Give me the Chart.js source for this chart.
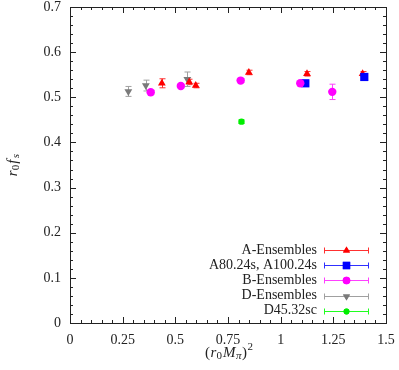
<!DOCTYPE html>
<html>
<head>
<meta charset="utf-8">
<script src="https://cdn.jsdelivr.net/npm/chart.js@4.4.1/dist/chart.umd.min.js"></script>
<style>
  html, body { margin: 0; padding: 0; background: #fff; }
</style>
</head>
<body>
<canvas id="c" width="399" height="370"></canvas>
<script>
// values
const aX = [0.436, 0.566, 0.597, 0.849, 1.125, 1.389];
const aY = [0.531, 0.534, 0.526, 0.555, 0.552, 0.552];
const aErr = [0.010, 0.006, 0.005, 0.005, 0.005, 0.005];

const a80X = [1.117, 1.397];
const a80Y = [0.531, 0.545];
const a80Err = [0.004, 0.004];

const bX = [0.383, 0.526, 0.810, 1.093, 1.245];
const bY = [0.511, 0.525, 0.537, 0.531, 0.512];
const bErr = [0.004, 0.004, 0.004, 0.004, 0.017];

const dX = [0.277, 0.360, 0.557];
const dY = [0.513, 0.526, 0.540];
const dErr = [0.011, 0.012, 0.016];

const d45X = [0.814];
const d45Y = [0.446];
const d45Err = [0.004];

const xTicks = [0, 0.25, 0.5, 0.75, 1, 1.25, 1.5];
const yTicks = [0, 0.1, 0.2, 0.3, 0.4, 0.5, 0.6, 0.7];

const FONT = '"Liberation Serif", "Times New Roman", serif';
const INK = '#222';

function pts(xs, ys) {
  return xs.map((x, i) => ({ x: x, y: ys[i] }));
}

// legend order = list order; "order" controls what is drawn on top (lower = on top)
const series = [
  { label: 'A-Ensembles', x: aX, y: aY, err: aErr, color: '#ff0000', bar: '#ff3030', style: 'triangle', r: 4.5, rot: 0, order: 3 },
  { label: 'A80.24s, A100.24s', x: a80X, y: a80Y, err: a80Err, color: '#0000ff', bar: '#3030ff', style: 'rect', r: 5.8, rot: 0, order: 2 },
  { label: 'B-Ensembles', x: bX, y: bY, err: bErr, color: '#ff00ff', bar: '#ff40ff', style: 'circle', r: 4.2, rot: 0, order: 1 },
  { label: 'D-Ensembles', x: dX, y: dY, err: dErr, color: '#7a7a7a', bar: '#a0a0a0', style: 'triangle', r: 4.5, rot: 180, order: 4 },
  { label: 'D45.32sc', x: d45X, y: d45Y, err: d45Err, color: '#00ee00', bar: '#20ff20', style: 'circle', r: 3.2, rot: 0, order: 0 }
];

// error bars, drawn under the markers
const errorBars = {
  id: 'errorBars',
  beforeDatasetsDraw(chart) {
    const ctx = chart.ctx;
    const ys = chart.scales.y;
    ctx.save();
    ctx.lineWidth = 1;
    chart.data.datasets.forEach((ds, i) => {
      const meta = chart.getDatasetMeta(i);
      ctx.strokeStyle = ds.barColor;
      meta.data.forEach((el, j) => {
        const v = ds.data[j].y, e = ds.errors[j];
        const x = Math.round(el.x) + 0.5;
        const top = ys.getPixelForValue(v + e);
        const bot = ys.getPixelForValue(v - e);
        ctx.beginPath();
        ctx.moveTo(x, top); ctx.lineTo(x, bot);
        ctx.moveTo(x - 3, top); ctx.lineTo(x + 3, top);
        ctx.moveTo(x - 3, bot); ctx.lineTo(x + 3, bot);
        ctx.stroke();
      });
    });
    ctx.restore();
  }
};

// closed frame with inward major/minor ticks on all four sides
const frame = {
  id: 'frame',
  afterDatasetsDraw(chart) {
    const ctx = chart.ctx;
    const a = chart.chartArea;
    const xs = chart.scales.x, ys = chart.scales.y;
    ctx.save();
    ctx.strokeStyle = INK;
    ctx.lineWidth = 1;
    ctx.strokeRect(Math.round(a.left) + 0.5, Math.round(a.top) + 0.5,
      Math.round(a.right - a.left), Math.round(a.bottom - a.top));
    ctx.beginPath();
    for (let k = 0; k <= 30; k++) {
      const len = k % 5 === 0 ? 6 : 3;
      const px = Math.round(xs.getPixelForValue(k * 0.05)) + 0.5;
      ctx.moveTo(px, a.bottom); ctx.lineTo(px, a.bottom - len);
      ctx.moveTo(px, a.top); ctx.lineTo(px, a.top + len);
    }
    for (let k = 0; k <= 35; k++) {
      const len = k % 5 === 0 ? 6 : 3;
      const py = Math.round(ys.getPixelForValue(k * 0.02)) + 0.5;
      ctx.moveTo(a.left, py); ctx.lineTo(a.left + len, py);
      ctx.moveTo(a.right, py); ctx.lineTo(a.right - len, py);
    }
    ctx.stroke();
    ctx.restore();
  }
};

function drawRich(ctx, parts, cx, cy) {
  let w = 0;
  parts.forEach(p => {
    ctx.font = (p.it ? 'italic ' : '') + (p.small ? 11 : 15) + 'px ' + FONT;
    p.w = ctx.measureText(p.t).width + (p.gap || 0);
    w += p.w;
  });
  let x = cx - w / 2;
  parts.forEach(p => {
    ctx.font = (p.it ? 'italic ' : '') + (p.small ? 11 : 15) + 'px ' + FONT;
    const dy = p.sub ? 3 : (p.sup ? -6 : 0);
    ctx.fillText(p.t, x, cy + dy);
    x += p.w;
  });
}

// axis titles with sub/superscripts, and the legend with error-bar samples
const extras = {
  id: 'extras',
  afterDraw(chart) {
    const ctx = chart.ctx;
    const a = chart.chartArea;
    ctx.save();
    ctx.fillStyle = INK;
    ctx.textBaseline = 'middle';
    ctx.textAlign = 'left';
    drawRich(ctx, [
      { t: '(', gap: 0.5 }, { t: 'r', it: true }, { t: '0', small: true, sub: true, gap: 1 },
      { t: 'M', it: true, gap: 0.5 }, { t: 'π', it: true, small: true, sub: true, gap: 0.5 },
      { t: ')', gap: 0.5 }, { t: '2', small: true, sup: true }
    ], (a.left + a.right) / 2 + 1, 353);
    ctx.save();
    ctx.translate(13, (a.top + a.bottom) / 2);
    ctx.rotate(-Math.PI / 2);
    drawRich(ctx, [
      { t: 'r', it: true }, { t: '0', small: true, sub: true, gap: 1 },
      { t: 'f', it: true, gap: 1.5 }, { t: 's', it: true, small: true, sub: true }
    ], 0, 0);
    ctx.restore();

    series.forEach((s, i) => {
      const y = 250 + i * 15.2;
      ctx.fillStyle = INK;
      ctx.font = '14px ' + FONT;
      ctx.textAlign = 'right';
      ctx.fillText(s.label, 317, y);
      ctx.strokeStyle = s.bar;
      ctx.lineWidth = 1;
      const yy = Math.round(y) + 0.5;
      ctx.beginPath();
      ctx.moveTo(324, yy); ctx.lineTo(369, yy);
      ctx.moveTo(324.5, yy - 3); ctx.lineTo(324.5, yy + 3);
      ctx.moveTo(368.5, yy - 3); ctx.lineTo(368.5, yy + 3);
      ctx.stroke();
      ctx.fillStyle = s.color;
      Chart.helpers.drawPoint(ctx, { pointStyle: s.style, radius: s.r * 0.9, rotation: s.rot, borderWidth: 0 }, 346.5, yy);
      ctx.fill();
    });
    ctx.restore();
  }
};

// keep the plot box where the reference has it: no automatic label overhang padding
function noPad(sc) {
  sc.paddingTop = 0; sc.paddingBottom = 0; sc.paddingLeft = 0; sc.paddingRight = 0;
}

new Chart(document.getElementById('c'), {
  type: 'scatter',
  data: {
    datasets: series.map(s => ({
      label: s.label,
      data: pts(s.x, s.y),
      errors: s.err,
      barColor: s.bar,
      order: s.order,
      backgroundColor: s.color,
      borderColor: s.color,
      borderWidth: 0,
      pointStyle: s.style,
      pointRadius: s.r,
      pointHoverRadius: s.r,
      pointRotation: s.rot
    }))
  },
  options: {
    responsive: false,
    animation: false,
    events: [],
    layout: { padding: { left: 0, right: 13, top: 7, bottom: 0 } },
    plugins: { legend: { display: false }, tooltip: { enabled: false } },
    scales: {
      x: {
        type: 'linear', min: 0, max: 1.5,
        afterBuildTicks: sc => { sc.ticks = xTicks.map(v => ({ value: v })); },
        afterFit: sc => { sc.height = 47; noPad(sc); },
        grid: { display: false, drawTicks: false },
        border: { display: false },
        ticks: { padding: 9, color: INK, font: { family: FONT, size: 14 }, maxRotation: 0,
          callback: v => String(v) }
      },
      y: {
        type: 'linear', min: 0, max: 0.7,
        afterBuildTicks: sc => { sc.ticks = yTicks.map(v => ({ value: v })); },
        afterFit: sc => { sc.width = 70; noPad(sc); },
        grid: { display: false, drawTicks: false },
        border: { display: false },
        ticks: { padding: 9, color: INK, font: { family: FONT, size: 14 },
          callback: v => String(v) }
      }
    }
  },
  plugins: [errorBars, frame, extras]
});
</script>
</body>
</html>
